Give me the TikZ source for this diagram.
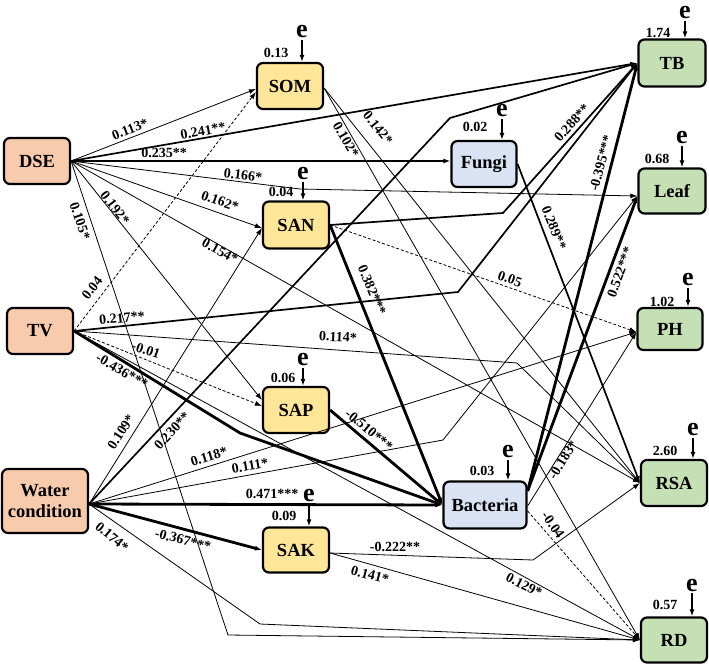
\documentclass[tikz,border=0pt]{standalone}
\usepackage{fontspec}
\setmainfont{Liberation Serif}
\usetikzlibrary{arrows.meta}
\definecolor{peach}{HTML}{F8CBAD}
\definecolor{gold}{HTML}{FFE699}
\definecolor{lblue}{HTML}{DAE3F3}
\definecolor{lgreen}{HTML}{C5E0B4}
\begin{document}
\begin{tikzpicture}[x=1pt,y=-1pt,
  box/.style={draw=black, line width=2.2pt, rounded corners=6pt, minimum width=66pt, minimum height=46pt, inner sep=0pt, font=\fontsize{18.5}{21}\selectfont\bfseries, align=center},
  exo/.style={box, fill=peach},
  soil/.style={box, fill=gold},
  mic/.style={box, fill=lblue},
  plant/.style={box, fill=lgreen},
  lab/.style={font=\fontsize{14}{15}\selectfont\bfseries, inner sep=0pt},
  elab/.style={font=\fontsize{26}{26}\selectfont\bfseries, inner sep=0pt},
  tip/.style={-{Latex[length=7pt,width=5pt]}},
  pthin/.style={tip, line width=0.8pt},
  pmed/.style={tip, line width=1.7pt},
  pthick/.style={tip, line width=2.8pt},
  pdash/.style={tip, line width=0.8pt, dash pattern=on 3pt off 2pt},
  earrow/.style={tip, line width=1.4pt}
]
\useasboundingbox (0,0) rectangle (709,664);
% nodes
\node[exo] (dse) at (37,161) {DSE};
\node[exo] (tv) at (40,331) {TV};
\node[exo, minimum width=86pt, minimum height=64pt] (water) at (45,501) {Water\\condition};
\node[soil] (som) at (290,86) {SOM};
\node[soil, minimum height=47pt] (san) at (296,225) {SAN};
\node[soil] (sap) at (296,410) {SAP};
\node[soil, minimum height=45pt] (sak) at (296,550) {SAK};
\node[mic, minimum width=65pt] (fungi) at (484,164) {Fungi};
\node[mic, minimum width=83pt, minimum height=47pt] (bac) at (485,505) {Bacteria};
\node[plant, minimum width=67pt, minimum height=47pt] (tb) at (672,63) {TB};
\node[plant, minimum width=67pt, minimum height=45pt] (leaf) at (672,191) {Leaf};
\node[plant, minimum width=65pt, minimum height=42pt] (ph) at (670,329) {PH};
\node[plant] (rsa) at (674,483) {RSA};
\node[plant, minimum height=45pt] (rd) at (674,640) {RD};

% bend points
\coordinate (b1) at (300,189);
\coordinate (b2) at (450,118);
\coordinate (b3) at (458,292);
\coordinate (b4) at (517,363);
\coordinate (b5) at (240,433);
\coordinate (b6) at (443,440);
\coordinate (b7) at (260,624);
\coordinate (b8) at (228,635);
\coordinate (b9) at (503,213);
\coordinate (b10) at (533,560);

% DSE
\draw[pthin] (dse.east) -- ([yshift=-3pt]som.west);
\draw[pmed] (dse.east) -- (tb.west);
\draw[pthick] (dse.east) -- (dse.east -| fungi.west);
\draw[pthin] (dse.east) -- (b1) -- ([yshift=-5pt]leaf.west);
\draw[pthin] (dse.east) -- ([yshift=-3pt]san.west);
\draw[pthin] (dse.east) -- ([yshift=10pt]sap.west);
\draw[pthin] (dse.east) -- (rsa.west);
\draw[pthin] (dse.east) -- (b8) -- (rd.west);
% TV
\draw[pdash] (tv.east) -- ([yshift=-6pt]som.west);
\draw[pmed] (tv.east) -- (b3) -- (tb.west);
\draw[pthin] (tv.east) -- (b4) -- (rsa.west);
\draw[pdash] (tv.east) -- ([yshift=4pt]sap.west);
\draw[pthick] (tv.east) -- (b5) -- (bac.west);
\draw[pthin] (tv.east) -- (rd.west);
% Water
\draw[pthin] ([yshift=-3pt]water.east) -- ([yshift=-3pt]san.west);
\draw[pmed] ([yshift=-3pt]water.east) -- (b2) -- (tb.west);
\draw[pthin] ([yshift=-3pt]water.east) -- ([yshift=-3pt]ph.west);
\draw[pthin] ([yshift=-3pt]water.east) -- (b6) -- ([yshift=-5pt]leaf.west);
\draw[pthick] ([yshift=-3pt]water.east) -- (bac.west);
\draw[pthick] ([yshift=-3pt]water.east) -- (sak.west);
\draw[pthin] ([yshift=-3pt]water.east) -- (b7) -- (rd.west);
% SOM
\draw[pthin] ([yshift=-2pt]som.east) -- (rsa.west);
\draw[pthin] ([yshift=-2pt]som.east) -- (rd.west);
% SAN
\draw[pmed] (san.east) -- (b9) -- (tb.west);
\draw[pdash] (san.east) -- ([yshift=-3pt]ph.west);
\draw[pthick] (san.east) -- (bac.west);
% SAP
\draw[pthick] (sap.east) -- (bac.west);
% SAK
\draw[pthin] ([yshift=-3pt]sak.east) -- (b10) -- (rsa.west);
\draw[pthin] ([yshift=-3pt]sak.east) -- (rd.west);
% Fungi
\draw[pmed] (fungi.east) -- (rsa.west);
% Bacteria
\draw[pthick] ([yshift=14pt]bac.east) -- (tb.west);
\draw[pthick] ([yshift=14pt]bac.east) -- ([yshift=-5pt]leaf.west);
\draw[pthin] ([yshift=-1pt]bac.east) -- ([yshift=-3pt]ph.west);
\draw[pdash] ([yshift=-6pt]bac.east) -- (rd.west);

% path labels
\node[lab, rotate=21] (l113) at (130,129) {0.113*};
\node[lab, rotate=10] (l241) at (203,131) {0.241**};
\node[lab] (l235) at (164,153) {0.235**};
\node[lab, rotate=-7] (l166) at (243,175) {0.166*};
\node[lab, rotate=-19] (l162) at (220,201) {0.162*};
\node[lab, rotate=-52] (l192) at (115,208) {0.192*};
\node[lab, rotate=-29] (l154) at (220,251) {0.154*};
\node[lab, rotate=-71] (l105) at (80,221) {0.105*};
\node[lab, rotate=52] (l04) at (92,288) {0.04};
\node[lab, rotate=5] (l217) at (122,318) {0.217**};
\node[lab, rotate=-19] (l001) at (146,350) {-0.01};
\node[lab, rotate=-30] (l436) at (122,371) {-0.436***};
\node[lab, rotate=-3] (l114) at (338,337) {0.114*};
\node[lab, rotate=57] (l109) at (121,432) {0.109*};
\node[lab, rotate=47] (l230) at (172,431) {0.230**};
\node[lab, rotate=17] (l118) at (209,457) {0.118*};
\node[lab, rotate=10] (l111) at (250,466) {0.111*};
\node[lab] (l471) at (272,494) {0.471***};
\node[lab, rotate=-15] (l367) at (183,540) {-0.367***};
\node[lab, rotate=-40] (l174) at (112,537) {0.174*};
\node[lab, rotate=-51] (l142) at (378,128) {0.142*};
\node[lab, rotate=-60] (l102) at (346,140) {0.102*};
\node[lab, rotate=48] (l288) at (572,123) {0.288**};
\node[lab, rotate=-19] (l005) at (510,279) {0.05};
\node[lab, rotate=-67] (l382) at (372,290) {0.382***};
\node[lab, rotate=-40] (l510) at (369,430) {-0.510***};
\node[lab] (l222) at (395,547) {-0.222**};
\node[lab, rotate=-15] (l141) at (370,575) {0.141*};
\node[lab, rotate=-68] (l289) at (554,228) {0.289**};
\node[lab, rotate=75] (l395) at (601,163) {-0.395***};
\node[lab, rotate=70] (l522) at (620,272) {0.522***};
\node[lab, rotate=58] (l183) at (563,460) {-0.183*};
\node[lab, rotate=-55] (l004) at (553,525) {-0.04};
\node[lab, rotate=-27] (l129) at (524,585) {0.129*};

% residual terms and R2
\node[elab] (esom) at (302,32) {e};
\draw[earrow] ([yshift=-2pt]esom.south) -- (esom.south |- som.north);
\node[lab] (rsom) at (276,53) {0.13};
\node[elab] (esan) at (303,174) {e};
\draw[earrow] ([yshift=-2pt]esan.south) -- (esan.south |- san.north);
\node[lab] (rsan) at (281,192) {0.04};
\node[elab] (esap) at (303,360) {e};
\draw[earrow] ([yshift=-2pt]esap.south) -- (esap.south |- sap.north);
\node[lab] (rsap) at (283,378) {0.06};
\node[elab] (esak) at (309,495) {e};
\draw[earrow] ([yshift=-2pt]esak.south) -- (esak.south |- sak.north);
\node[lab] (rsak) at (284,516) {0.09};
\node[elab] (efungi) at (502,111) {e};
\draw[earrow] ([yshift=-2pt]efungi.south) -- (efungi.south |- fungi.north);
\node[lab] (rfungi) at (475,127) {0.02};
\node[elab] (ebac) at (508,452) {e};
\draw[earrow] ([yshift=-2pt]ebac.south) -- (ebac.south |- bac.north);
\node[lab] (rbac) at (482,471) {0.03};
\node[elab] (etb) at (685,13) {e};
\draw[earrow] ([yshift=-2pt]etb.south) -- (etb.south |- tb.north);
\node[lab] (rtb) at (658,33) {1.74};
\node[elab] (eleaf) at (682,138) {e};
\draw[earrow] ([yshift=-2pt]eleaf.south) -- (eleaf.south |- leaf.north);
\node[lab] (rleaf) at (657,159) {0.68};
\node[elab] (eph) at (688,280) {e};
\draw[earrow] ([yshift=-2pt]eph.south) -- (eph.south |- ph.north);
\node[lab] (rph) at (662,302) {1.02};
\node[elab] (ersa) at (693,430) {e};
\draw[earrow] ([yshift=-2pt]ersa.south) -- (ersa.south |- rsa.north);
\node[lab] (rrsa) at (665,451) {2.60};
\node[elab] (erd) at (692,585) {e};
\draw[earrow] ([yshift=-2pt]erd.south) -- (erd.south |- rd.north);
\node[lab] (rrd) at (665,605) {0.57};
\end{tikzpicture}
\end{document}
